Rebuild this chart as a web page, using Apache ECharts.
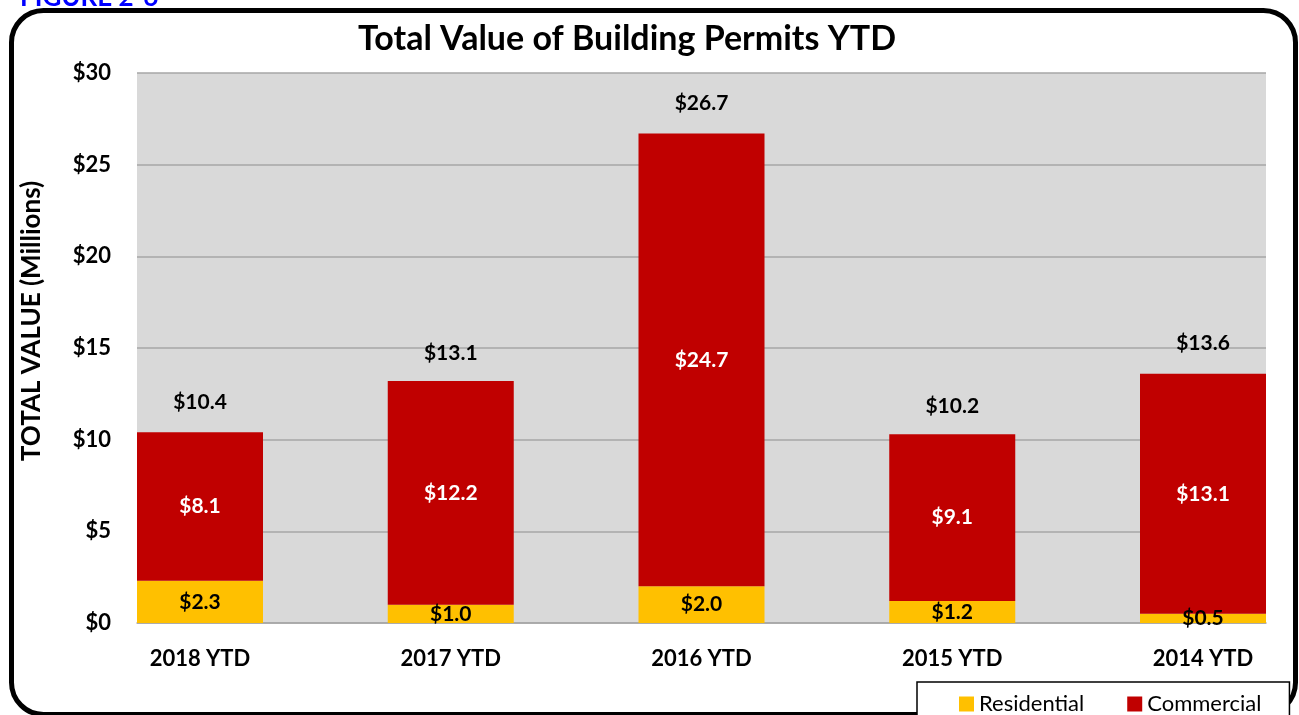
<!DOCTYPE html>
<html>
<head>
<meta charset="utf-8">
<title>Total Value of Building Permits YTD</title>
<script src="https://cdn.jsdelivr.net/npm/echarts@6/dist/echarts.min.js"></script>
<style>
  html, body { margin: 0; padding: 0; background: #fff; }
  #chart { width: 1299px; height: 715px; }
</style>
</head>
<body>
<div id="chart"></div>
<script>
// data
const categories = ['2018 YTD', '2017 YTD', '2016 YTD', '2015 YTD', '2014 YTD']
const residential = [2.3, 1.0, 2.0, 1.2, 0.5]
const commercial = [8.1, 12.2, 24.7, 9.1, 13.1]
const totals = [10.4, 13.1, 26.7, 10.2, 13.6]

const FONT = 'Lato, "Open Sans", sans-serif'
const money = v => '$' + Number(v).toFixed(1)

const chart = echarts.init(document.getElementById('chart'))

const option = {
  animation: false,
  textStyle: { fontFamily: FONT },
  title: [
    {
      text: 'Total Value of Building Permits YTD',
      left: 353,
      top: 17,
      textStyle: { fontSize: 34, fontWeight: 'bold', color: '#000', fontFamily: FONT }
    },
    {
      // figure caption, cut off by the top edge
      text: 'FIGURE 2-6',
      left: 15,
      top: -20,
      textStyle: { fontSize: 26, fontWeight: 'bold', color: '#0000ff', fontFamily: FONT }
    }
  ],
  legend: {
    data: ['Residential', 'Commercial'],
    left: 917,
    top: 682,
    padding: [11, 28, 22, 42],
    itemGap: 43,
    itemWidth: 15,
    itemHeight: 15,
    icon: 'rect',
    borderColor: '#000',
    borderWidth: 1.5,
    backgroundColor: '#fff',
    textStyle: { fontSize: 22, color: '#000', fontFamily: FONT }
  },
  grid: [
    // plot area: grey background, gridlines and value axis
    {
      left: 137, top: 73, width: 1129, height: 550,
      show: true, backgroundColor: '#d9d9d9', borderWidth: 0
    },
    // bar positions: first and last category sit on the edges of this grid,
    // so the outer bars touch the edges of the plot area
    {
      left: 200, top: 73, width: 1003, height: 550,
      show: false
    }
  ],
  xAxis: [
    {
      gridIndex: 0,
      type: 'category',
      data: categories,
      axisLine: { show: true, lineStyle: { color: '#a6a6a6', width: 1.5 } },
      axisTick: { show: false },
      axisLabel: { show: false }
    },
    {
      gridIndex: 1,
      type: 'category',
      boundaryGap: false,
      data: categories,
      axisLine: { show: false },
      axisTick: { show: false },
      axisLabel: {
        margin: 25,
        fontSize: 22,
        fontWeight: 'bold',
        color: '#000',
        fontFamily: FONT
      }
    }
  ],
  yAxis: [
    {
      gridIndex: 0,
      type: 'value',
      min: 0,
      max: 30,
      interval: 5,
      axisLine: { show: false },
      axisTick: { show: false },
      axisLabel: {
        margin: 26,
        fontSize: 22,
        fontWeight: 'bold',
        color: '#000',
        fontFamily: FONT,
        formatter: v => '$' + v
      },
      splitLine: { show: true, lineStyle: { color: '#a6a6a6', width: 1.5 } }
    },
    {
      gridIndex: 1,
      type: 'value',
      min: 0,
      max: 30,
      show: false,
      splitLine: { show: false }
    }
  ],
  series: [
    {
      name: 'Residential',
      type: 'bar',
      stack: 'permits',
      xAxisIndex: 1,
      yAxisIndex: 1,
      barWidth: 126,
      clip: false,
      data: residential,
      itemStyle: { color: '#ffc000' },
      label: {
        show: true,
        position: 'inside',
        formatter: p => money(p.value),
        fontSize: 21,
        fontWeight: 'bold',
        color: '#000',
        fontFamily: FONT
      }
    },
    {
      name: 'Commercial',
      type: 'bar',
      stack: 'permits',
      xAxisIndex: 1,
      yAxisIndex: 1,
      barWidth: 126,
      clip: false,
      data: commercial,
      itemStyle: { color: '#c00000' },
      label: {
        show: true,
        position: 'inside',
        formatter: p => money(p.value),
        fontSize: 21,
        fontWeight: 'bold',
        color: '#fff',
        fontFamily: FONT
      }
    },
    {
      // invisible series that only carries the total labels
      name: 'Total',
      type: 'line',
      xAxisIndex: 1,
      yAxisIndex: 1,
      data: totals,
      symbol: 'circle',
      symbolSize: 1,
      showSymbol: true,
      clip: false,
      itemStyle: { color: 'rgba(0,0,0,0)' },
      lineStyle: { width: 0, color: 'rgba(0,0,0,0)' },
      silent: true,
      label: {
        show: true,
        position: 'top',
        distance: 19,
        formatter: p => money(p.value),
        fontSize: 21,
        fontWeight: 'bold',
        color: '#000',
        fontFamily: FONT
      }
    }
  ],
  graphic: [
    {
      // rounded frame around the figure
      type: 'rect',
      left: 9,
      top: 8,
      shape: { width: 1284, height: 704, r: 32 },
      style: { fill: null, stroke: '#000', lineWidth: 5 },
      z: -1,
      silent: true
    },
    {
      // value axis title, sits a little above the middle of the plot
      type: 'text',
      x: 32,
      y: 321,
      rotation: Math.PI / 2,
      style: {
        text: 'TOTAL VALUE (Millions)',
        font: 'bold 26px ' + FONT,
        fill: '#000',
        align: 'center',
        verticalAlign: 'middle'
      },
      silent: true
    }
  ]
}

chart.setOption(option)
</script>
</body>
</html>
